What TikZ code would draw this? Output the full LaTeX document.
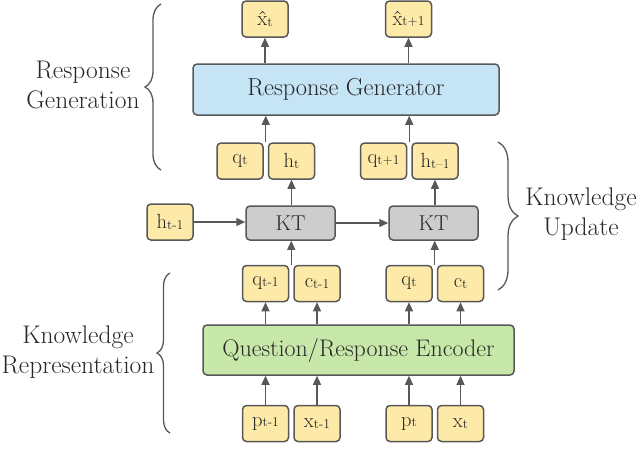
\documentclass[tikz,border=0pt]{standalone}
\usepackage{xcolor}
\usepackage{tikz}
\usetikzlibrary{arrows.meta, positioning, calc, decorations.pathreplacing}

\definecolor{linegray}{RGB}{88,88,88}
\definecolor{textgray}{RGB}{40,40,40}
\definecolor{varyellow}{RGB}{254,234,168}
\definecolor{genblue}{RGB}{197,228,246}
\definecolor{encgreen}{RGB}{200,232,170}
\definecolor{ktgray}{RGB}{205,205,205}

% variable with a small index
\newcommand{\vsb}[2]{#1{\fontsize{13.5}{14}\selectfont\raisebox{-0.6pt}{#2}}}

\begin{document}
\begin{tikzpicture}[
    x=1pt, y=-1pt,
    var/.style={draw=linegray, line width=1.5pt, fill=varyellow, rounded corners=4pt,
                minimum width=46, minimum height=36, inner sep=0pt,
                text=textgray, font=\fontsize{20.5}{22}\selectfont},
    block/.style={draw=linegray, line width=1.5pt, rounded corners=4pt, inner sep=0pt,
                  text=textgray, font=\fontsize{24.5}{26}\selectfont},
    arr/.style={draw=linegray, line width=1.1pt, -{Triangle[length=9pt, width=8pt]}},
    grp/.style={draw=linegray, line width=1.3pt, decorate,
                decoration={brace, amplitude=#1}},
    side/.style={align=center, text=textgray, font=\fontsize{25.5}{30}\selectfont},
]
\useasboundingbox (0,0) rectangle (640,475);

%% Blocks
\node[block, fill=genblue, minimum width=306, minimum height=51] (gen) at (346,89.5) {Response Generator};
\node[block, fill=ktgray, minimum width=89, minimum height=34, font=\fontsize{21.5}{24}\selectfont] (kt1) at (290.5,223) {KT};
\node[block, fill=ktgray, minimum width=89, minimum height=34, font=\fontsize{21.5}{24}\selectfont] (kt2) at (433.5,223) {KT};
\node[block, fill=encgreen, minimum width=311, minimum height=50, font=\fontsize{24}{26}\selectfont] (enc) at (358.5,350) {Question/Response Encoder};

%% Variables
\node[var] (xh1) at (265,19) {\vsb{\^{x}}{t}};
\node[var] (xh2) at (408.5,19) {\vsb{\^{x}}{t+1}};
\node[var] (q1) at (240,161) {\vsb{q}{t}};
\node[var, right=4pt of q1] (h1) {\vsb{h}{t}};
\node[var] (q2) at (383.5,161) {\vsb{q}{t+1}};
\node[var, right=4pt of q2] (h2) {\vsb{h}{t--1}};
\node[var] (hprev) at (170,222) {\vsb{h}{t-1}};
\node[var] (qa) at (265.5,283.5) {\vsb{q}{t-1}};
\node[var, right=4pt of qa] (ca) {\vsb{c}{t-1}};
\node[var] (qb) at (409,283.5) {\vsb{q}{t}};
\node[var, right=4pt of qb] (cb) {\vsb{c}{t}};
\node[var] (pa) at (265.5,423.5) {\vsb{p}{t-1}};
\node[var, right=4pt of pa] (xa) {\vsb{x}{t-1}};
\node[var] (pb) at (409,423.5) {\vsb{p}{t}};
\node[var, right=4pt of pb] (xb) {\vsb{x}{t}};

%% Junctions between paired variables
\coordinate (j1) at ($(q1.north east)!.5!(h1.north west)$);
\coordinate (j2) at ($(q2.north east)!.5!(h2.north west)$);
\coordinate (j3) at ($(qa.north east)!.5!(ca.north west)$);
\coordinate (j4) at ($(qb.north east)!.5!(cb.north west)$);

%% Arrows
\draw[arr] (gen.north -| xh1) -- (xh1.south);
\draw[arr] (gen.north -| xh2) -- (xh2.south);
\draw[arr] (j1) -- (j1 |- gen.south);
\draw[arr] (j2) -- (j2 |- gen.south);
\draw[arr] (kt1.north -| h1) -- (h1.south);
\draw[arr] (kt2.north -| h2) -- (h2.south);
\draw[arr] (hprev.east) -- (hprev.east -| kt1.west);
\draw[arr] (kt1.east) -- (kt2.west);
\draw[arr] (j3) -- (j3 |- kt1.south);
\draw[arr] (j4) -- (j4 |- kt2.south);
\foreach \v in {qa,ca,qb,cb}
  \draw[arr] (enc.north -| \v) -- (\v.south);
\foreach \v in {pa,xa,pb,xb}
  \draw[arr] (\v.north) -- (\v.north |- enc.south);

%% Stage braces and labels
\draw[grp=16pt] (161,170) -- (161,4);
\node[side] (lblgen) at (83,85) {Response\\Generation};
\draw[grp=20pt] (498,142) -- (498,290);
\node[side] (lblupd) at (581,214) {Knowledge\\Update};
\draw[grp=13pt] (170,433) -- (170,273);
\node[side] (lblrep) at (78,352) {Knowledge\\Representation};
\end{tikzpicture}
\end{document}
